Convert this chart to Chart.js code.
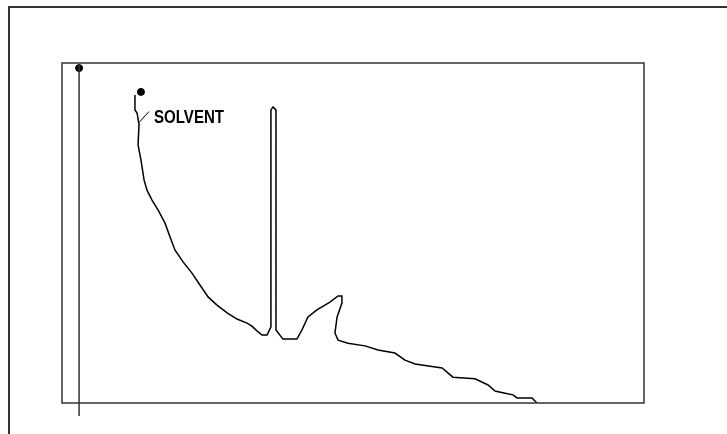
<!DOCTYPE html>
<html>
<head>
<meta charset="utf-8">
<script src="https://cdn.jsdelivr.net/npm/chart.js@4"></script>
<style>
  html, body { margin: 0; padding: 0; background: #fff; }
  #wrap { position: relative; width: 727px; height: 434px; overflow: hidden; }
  #frame { position: absolute; left: 8px; top: 6px; width: 760px; height: 480px; border: 2px solid #333; box-sizing: border-box; }
  #chart { position: absolute; left: 0; top: 0; }
</style>
</head>
<body>
<div id="wrap">
  <div id="frame"></div>
  <canvas id="chart" width="727" height="434"></canvas>
</div>
<script>
// chromatogram trace: retention time (min) and detector response (%)
const times = [3.76, 3.76, 3.87, 3.97, 3.92, 4.07, 4.23, 4.38, 4.64, 4.95, 5.31, 5.57, 5.82, 6.24, 6.70,
  7.11, 7.53, 7.99, 8.51, 9.02, 9.54, 9.79, 10.05, 10.31, 10.57, 10.77, 10.77, 10.88, 11.03, 11.03,
  11.39, 12.11, 12.37, 12.68, 13.14, 13.81, 14.23, 14.43, 14.43, 14.18, 14.07, 14.23, 14.74, 15.62,
  16.29, 17.16, 17.68, 18.20, 19.59, 20.15, 21.29, 21.96, 22.32, 22.84, 23.25, 23.45, 24.23, 24.48];
const response = [90.6, 86.2, 85.3, 81.8, 75.9, 71.5, 65.6, 62.6, 59.7, 56.8, 52.9, 48.8, 45.0, 41.5, 38.2,
  34.7, 31.2, 28.8, 26.5, 24.7, 23.5, 22.6, 21.2, 20.0, 20.0, 22.4, 86.2, 87.1, 86.2, 21.5,
  18.8, 18.8, 21.5, 25.3, 27.4, 29.7, 31.5, 31.5, 29.4, 25.3, 20.6, 18.5, 17.6, 16.8,
  15.6, 14.7, 12.6, 11.5, 10.3, 7.6, 7.1, 5.3, 3.5, 2.9, 2.4, 1.5, 1.5, 0];

// injection marker
const injectTime = [0.88, 0.88];
const injectLevel = [99.4, -3.8];

// dots: injection and solvent start
const dotTimes = [0.88, 4.07];
const dotLevels = [98.5, 91.5];

// peak label
const labelNames = ['SOLVENT'];
const labelTimes = [3.97];
const labelLevels = [82.5];

const xy = (xs, ys) => xs.map((x, i) => ({ x: x, y: ys[i] }));

const boxPlugin = {
  id: 'box',
  afterDraw(chart) {
    const { ctx, chartArea: a, scales } = chart;
    ctx.save();
    ctx.strokeStyle = '#333';
    ctx.lineWidth = 1.5;
    ctx.strokeRect(a.left, a.top, a.right - a.left, a.bottom - a.top);

    // labels with a small leader tick
    ctx.strokeStyle = '#000';
    ctx.lineWidth = 1;
    ctx.fillStyle = '#000';
    ctx.font = 'bold 19px "Liberation Sans", Arial, sans-serif';
    ctx.textBaseline = 'alphabetic';
    labelNames.forEach((name, i) => {
      const px = scales.x.getPixelForValue(labelTimes[i]);
      const py = scales.y.getPixelForValue(labelLevels[i]);
      ctx.beginPath();
      ctx.moveTo(px, py);
      ctx.lineTo(px + 10, py - 11);
      ctx.stroke();
      ctx.fillText(name, px + 15, py, 70);
    });
    ctx.restore();
  }
};

new Chart(document.getElementById('chart'), {
  type: 'scatter',
  data: {
    datasets: [
      {
        data: xy(times, response),
        showLine: true,
        borderColor: '#000',
        borderWidth: 1.5,
        pointRadius: 0,
        tension: 0
      },
      {
        data: xy(injectTime, injectLevel),
        showLine: true,
        borderColor: '#333',
        borderWidth: 1.5,
        pointRadius: 0,
        clip: false
      },
      {
        data: xy(dotTimes, dotLevels),
        showLine: false,
        backgroundColor: '#000',
        borderColor: '#000',
        pointRadius: 3.5,
        clip: false
      }
    ]
  },
  options: {
    responsive: false,
    animation: false,
    layout: { padding: { left: 62, top: 63, right: 83, bottom: 31 } },
    plugins: { legend: { display: false }, tooltip: { enabled: false } },
    scales: {
      x: { type: 'linear', min: 0, max: 30, display: false },
      y: { type: 'linear', min: 0, max: 100, display: false }
    }
  },
  plugins: [boxPlugin]
});
</script>
</body>
</html>
